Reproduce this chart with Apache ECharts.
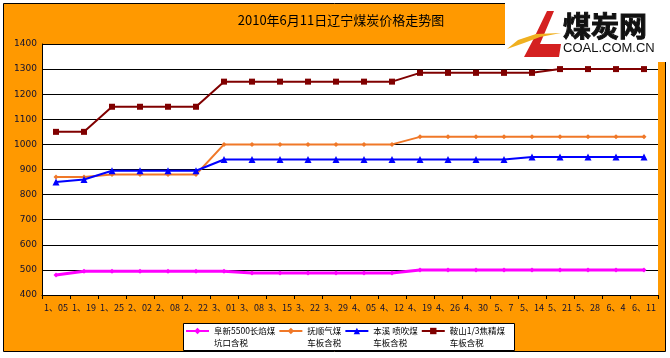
<!DOCTYPE html>
<html>
<head>
<meta charset="utf-8">
<script src="https://cdn.jsdelivr.net/npm/echarts@6/dist/echarts.min.js"></script>
<style>
html,body{margin:0;padding:0;background:#fff;overflow:hidden;}
#c{width:670px;height:358px;}
</style>
</head>
<body>
<div id="c"></div>
<script>
const titleText = '2010年6月11日辽宁煤炭价格走势图';
const categories = ['1、05','1、19','1、25','2、02','2、08','2、22','3、01','3、08','3、15','3、22','3、29','4、05','4、12','4、19','4、26','4、30','5、7','5、14','5、21','5、28','6、4','6、11'];
const seriesNames = ['阜新5500长焰煤','抚顺气煤','本溪 喷吹煤','鞍山1/3焦精煤'];
const seriesSub = ['坑口含税','车板含税','车板含税','车板含税'];
const fuxin  = [480,495,495,495,495,495,495,488,488,488,488,488,488,500,500,500,500,500,500,500,500,500];
const fushun = [870,870,880,880,880,880,1000,1000,1000,1000,1000,1000,1000,1030,1030,1030,1030,1030,1030,1030,1030,1030];
const benxi  = [850,860,895,895,895,895,940,940,940,940,940,940,940,940,940,940,940,950,950,950,950,950];
const anshan = [1050,1050,1150,1150,1150,1150,1250,1250,1250,1250,1250,1250,1250,1285,1285,1285,1285,1285,1300,1300,1300,1300];
const yMin = 400, yMax = 1400, yStep = 100;

const colors = ['#FF00FF','#F07828','#0000FF','#800000'];
const symbols = ['diamond','diamond','triangle','rect'];
const symbolSizes = [5,5,7,6];
const widths = [3,2,2,2];
const dataList = [fuxin, fushun, benxi, anshan];

const subMap = {};
seriesNames.forEach((n,i)=>{subMap[n]=seriesSub[i];});

const chart = echarts.init(document.getElementById('c'));
chart.setOption({
  animation:false,
  backgroundColor:'#fff',
  title:{
    text:titleText,
    left:336, top:9, textAlign:'center',
    textStyle:{fontSize:13,fontWeight:'normal',color:'#000',fontFamily:'Noto Sans CJK SC'}
  },
  graphic:[
    {type:'rect',z:-10,shape:{x:3.5,y:3.5,width:662,height:348},style:{fill:'#FF9900',stroke:'#000',lineWidth:1}},
    {type:'rect',z:-9,shape:{x:42,y:44,width:616,height:251},style:{fill:'#fff'}},
    {type:'rect',z:-5,shape:{x:183.5,y:323.5,width:331,height:27},style:{fill:'#fff',stroke:'#000',lineWidth:1}},
    {type:'rect',z:100,shape:{x:505,y:0,width:165,height:62},style:{fill:'#fff'}},
    {type:'polygon',z:101,shape:{points:[[547,11],[554,11],[540,44],[561,44],[559,57],[524,57],[533,40]]},style:{fill:'#D42020'}},
    {type:'polygon',z:102,shape:{points:[[507,49],[518,40],[536,34],[561,33],[540,37],[524,43]]},style:{fill:'#F0B020'}},
    {type:'text',z:101,style:{x:563,y:12,text:'煤炭网',font:'bold 28px "Noto Sans CJK SC"',fill:'#111',stroke:'#111',lineWidth:1}},
    {type:'text',z:101,style:{x:563,y:42,text:'COAL.COM.CN',font:'13px "Liberation Sans"',fill:'#111'}}
  ],
  legend:{
    left:185, top:313,
    itemWidth:23, itemHeight:8, itemGap:3,
    padding:0,
    data:seriesNames,
    formatter:function(n){return ' \n'+n+'\n'+subMap[n];},
    textStyle:{fontSize:8.5,lineHeight:12,color:'#000',fontFamily:'Noto Sans CJK SC'}
  },
  grid:{left:42,right:12,top:44,bottom:63,show:false},
  xAxis:{
    type:'category',data:categories,boundaryGap:true,
    axisLine:{lineStyle:{color:'#000',width:1}},
    axisTick:{show:true,length:4,lineStyle:{color:'#000'}},
    axisLabel:{fontSize:9,color:'#101030',margin:8,interval:0,fontFamily:'Noto Sans CJK SC'}
  },
  yAxis:{
    type:'value',min:yMin,max:yMax,interval:yStep,
    axisLine:{show:true,lineStyle:{color:'#000'}},
    axisTick:{show:false},
    splitLine:{lineStyle:{color:'#000',width:1}},
    axisLabel:{fontSize:9,color:'#101030',margin:5,fontFamily:'DejaVu Sans',formatter:function(v){return String(v);}}
  },
  series:seriesNames.map((n,i)=>({
    name:n,type:'line',data:dataList[i],
    symbol:symbols[i],symbolSize:symbolSizes[i],showAllSymbol:true,
    itemStyle:{color:colors[i]},
    lineStyle:{color:colors[i],width:widths[i]}
  }))
});
</script>
</body>
</html>
